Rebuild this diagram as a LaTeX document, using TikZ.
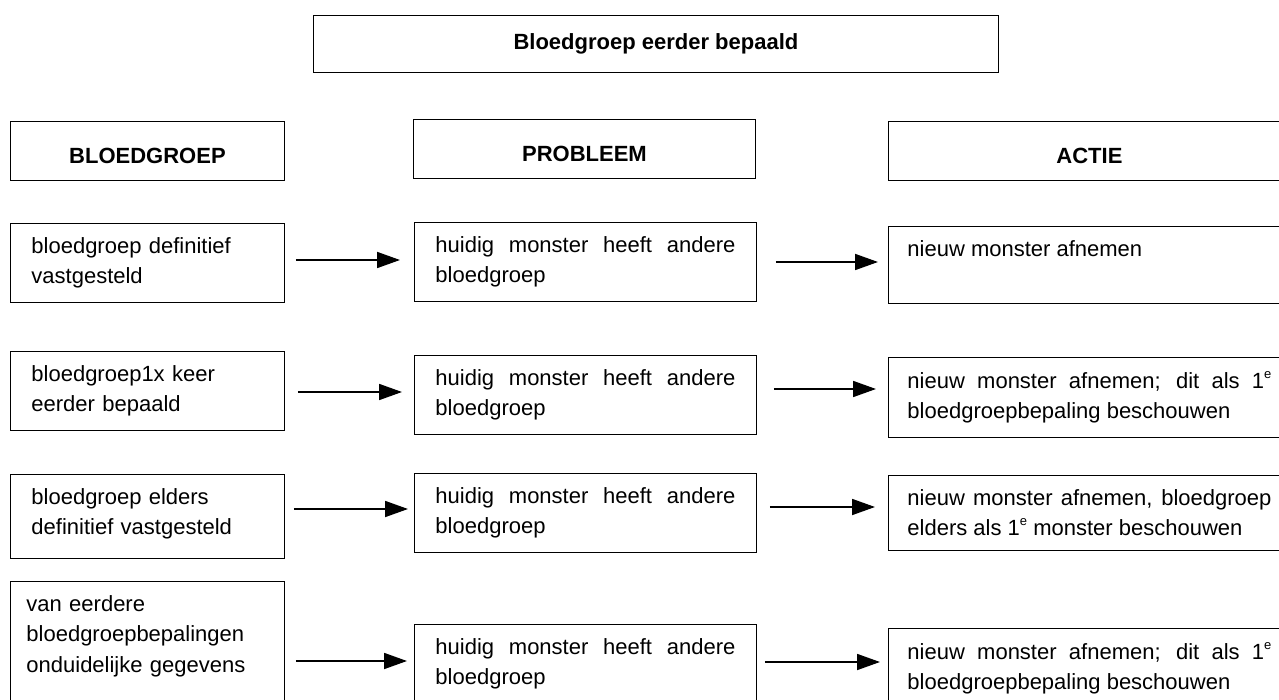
\documentclass[tikz,border=0pt]{standalone}
\usepackage{fontspec}
\setmainfont{Liberation Sans}
\usetikzlibrary{arrows.meta}
\newcommand{\ste}{\raisebox{10pt}{\fontsize{13}{13}\selectfont e}}
\newcommand{\diep}[1]{\rule[-#1]{0pt}{#1}}
\tikzset{
  txt/.style={font=\fontsize{22}{30.5}\selectfont},
  titlebox/.style={draw,line width=0.9pt,anchor=north west,inner sep=0pt,minimum height=57pt,font=\fontsize{22}{26}\selectfont\bfseries},
  headbox/.style={draw,line width=0.9pt,anchor=north west,inner sep=0pt,minimum height=59pt,text height=26pt,text depth=0pt,font=\fontsize{22}{26}\selectfont\bfseries},
  leftbox/.style={draw,line width=0.9pt,anchor=north west,txt,align=left,text width=232pt,inner xsep=21pt,inner ysep=14pt},
  midbox/.style={draw,line width=0.9pt,anchor=north west,txt,align=justify,text width=300pt,inner xsep=21pt,inner ysep=14pt},
  actbox/.style={draw,line width=0.9pt,anchor=north west,txt,align=justify,text width=364pt,inner xsep=19pt,inner ysep=14pt},
  arr/.style={->,line width=1.8pt}
}
\begin{document}
\begin{tikzpicture}[line cap=butt,line join=miter,>={Triangle[length=23pt,width=16pt]},x=1pt,y=-1pt]
\useasboundingbox (0,0) rectangle (1279,700);
\clip (0,0) rectangle (1279,700);
% titel
\node[titlebox,minimum width=685pt] (titel) at (313,15) {Bloedgroep eerder bepaald};
% kolomkoppen
\node[headbox,minimum width=274pt] (hbg) at (10,121) {BLOEDGROEP};
\node[headbox,minimum width=342pt] (hpr) at (413,119) {PROBLEEM};
\node[headbox,minimum width=402pt] (hac) at (888,121) {ACTIE};
% rij 1
\node[leftbox] (bg1) at (10,223) {bloedgroep definitief\\vastgesteld};
\node[midbox] (pr1) at (414,222) {huidig monster heeft andere\linebreak bloedgroep};
\node[actbox] (ac1) at (888,226) {nieuw monster afnemen\diep{33pt}};
% rij 2
\node[leftbox] (bg2) at (10,351) {bloedgroep1x keer\\eerder bepaald};
\node[midbox] (pr2) at (414,355) {huidig monster heeft andere\linebreak bloedgroep};
\node[actbox] (ac2) at (888,357) {nieuw monster afnemen; dit als 1\ste\linebreak bloedgroepbepaling beschouwen};
% rij 3
\node[leftbox] (bg3) at (10,474) {bloedgroep elders\\definitief vastgesteld\diep{10pt}};
\node[midbox] (pr3) at (414,473) {huidig monster heeft andere\linebreak bloedgroep};
\node[actbox] (ac3) at (888,475) {nieuw monster afnemen, bloedgroep\linebreak elders als 1\ste{} monster beschouwen};
% rij 4
\node[leftbox,inner xsep=16pt,text width=242pt] (bg4) at (10,581) {van eerdere\\bloedgroepbepalingen\\onduidelijke gegevens\diep{30pt}};
\node[midbox] (pr4) at (414,624) {huidig monster heeft andere\linebreak bloedgroep\diep{20pt}};
\node[actbox] (ac4) at (888,628) {nieuw monster afnemen; dit als 1\ste\linebreak bloedgroepbepaling beschouwen\diep{20pt}};
% pijlen
\draw[arr,shorten <=11pt,shorten >=14pt] (bg1.east |- 0,260) -- (pr1.west |- 0,260);
\draw[arr,shorten <=19pt,shorten >=10pt] (pr1.east |- 0,262) -- (ac1.west |- 0,262);
\draw[arr,shorten <=13pt,shorten >=12pt] (bg2.east |- 0,392) -- (pr2.west |- 0,392);
\draw[arr,shorten <=17pt,shorten >=12pt] (pr2.east |- 0,389) -- (ac2.west |- 0,389);
\draw[arr,shorten <=9pt,shorten >=6pt] (bg3.east |- 0,509) -- (pr3.west |- 0,509);
\draw[arr,shorten <=13pt,shorten >=13pt] (pr3.east |- 0,507) -- (ac3.west |- 0,507);
\draw[arr,shorten <=11pt,shorten >=7pt] (bg4.east |- 0,661) -- (pr4.west |- 0,661);
\draw[arr,shorten <=8pt,shorten >=8pt] (pr4.east |- 0,662) -- (ac4.west |- 0,662);
\end{tikzpicture}
\end{document}
